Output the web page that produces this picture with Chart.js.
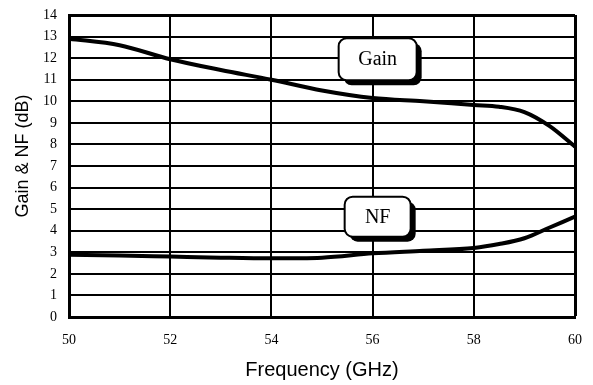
<!DOCTYPE html>
<html>
<head>
<meta charset="utf-8">
<script src="https://cdn.jsdelivr.net/npm/chart.js@4"></script>
<style>
  html, body { margin: 0; padding: 0; background: #fff; }
  canvas { display: block; }
</style>
</head>
<body>
<canvas id="chart" width="593" height="385"></canvas>
<script>
// frequency points (GHz) and curves
const freq = [50, 51, 52, 53, 54, 55, 56, 57, 58, 58.5, 59, 59.5, 60];
const gain = [12.9, 12.6, 11.95, 11.45, 11.0, 10.5, 10.15, 10.0, 9.83, 9.75, 9.5, 8.85, 7.9];
const nf   = [2.88, 2.85, 2.8, 2.75, 2.72, 2.75, 2.95, 3.07, 3.2, 3.38, 3.65, 4.15, 4.65];
const xTicks = [50, 52, 54, 56, 58, 60];
const yTicks = [0, 1, 2, 3, 4, 5, 6, 7, 8, 9, 10, 11, 12, 13, 14];
const labels = ['Gain', 'NF'];

const serif = '"Liberation Serif", "Times New Roman", serif';
const sans = '"Liberation Sans", Arial, sans-serif';

// callout boxes ("Gain", "NF") with drop shadow
const calloutPlugin = {
  id: 'callouts',
  afterDatasetsDraw(chart) {
    const { ctx, scales: { x, y } } = chart;
    const boxes = [
      { text: labels[0], cx: x.getPixelForValue(56.1), cy: y.getPixelForValue(11.95), w: 78, h: 42 },
      { text: labels[1], cx: x.getPixelForValue(56.1), cy: y.getPixelForValue(4.65), w: 66, h: 40 }
    ];
    ctx.save();
    for (const b of boxes) {
      const l = b.cx - b.w / 2, t = b.cy - b.h / 2;
      ctx.fillStyle = '#000';
      ctx.beginPath(); ctx.roundRect(l + 5, t + 5, b.w, b.h, 8); ctx.fill();
      ctx.fillStyle = '#fff';
      ctx.strokeStyle = '#000';
      ctx.lineWidth = 2;
      ctx.beginPath(); ctx.roundRect(l, t, b.w, b.h, 8); ctx.fill(); ctx.stroke();
      ctx.fillStyle = '#000';
      ctx.font = '20px ' + serif;
      ctx.textAlign = 'center';
      ctx.textBaseline = 'middle';
      ctx.fillText(b.text, b.cx, b.cy + 1);
    }
    ctx.restore();
  }
};

const toPts = arr => freq.map((f, i) => ({ x: f, y: arr[i] }));

new Chart(document.getElementById('chart'), {
  type: 'line',
  data: {
    datasets: [
      { label: labels[0], data: toPts(gain), borderColor: '#000', borderWidth: 4, pointRadius: 0, cubicInterpolationMode: 'monotone', fill: false },
      { label: labels[1], data: toPts(nf), borderColor: '#000', borderWidth: 4, pointRadius: 0, cubicInterpolationMode: 'monotone', fill: false }
    ]
  },
  options: {
    responsive: false,
    animation: false,
    layout: { padding: { top: 15, right: 18, left: 0, bottom: 0 } },
    plugins: { legend: { display: false }, tooltip: { enabled: false } },
    scales: {
      x: {
        type: 'linear', min: 50, max: 60,
        afterFit(s) { s.height = 68; s.paddingLeft = 0; s.paddingRight = 0; },
        afterBuildTicks(s) { s.ticks = xTicks.map(v => ({ value: v })); },
        grid: { color: '#000', lineWidth: c => (c.tick && c.tick.value === 60 ? 3 : 2), drawTicks: false },
        border: { color: '#000', width: 3 },
        ticks: { color: '#000', padding: 15, font: { family: serif, size: 14 } },
        title: { display: true, text: 'Frequency (GHz)', color: '#000', font: { family: sans, size: 20 }, padding: { top: 0, bottom: 3 } }
      },
      y: {
        min: 0, max: 14,
        afterFit(s) { s.width = 69; s.paddingTop = 0; s.paddingBottom = 0; },
        afterBuildTicks(s) { s.ticks = yTicks.map(v => ({ value: v })); },
        grid: { color: '#000', lineWidth: c => (c.tick && c.tick.value === 14 ? 3 : 2), drawTicks: false },
        border: { color: '#000', width: 3 },
        ticks: { color: '#000', padding: 12, font: { family: serif, size: 14 } },
        // leading spaces nudge the rotated title upward, as in the original
        title: { display: true, text: '    Gain & NF (dB)', color: '#000', font: { family: sans, size: 18 }, padding: { top: 12, bottom: 0 } }
      }
    }
  },
  plugins: [calloutPlugin]
});
</script>
</body>
</html>
